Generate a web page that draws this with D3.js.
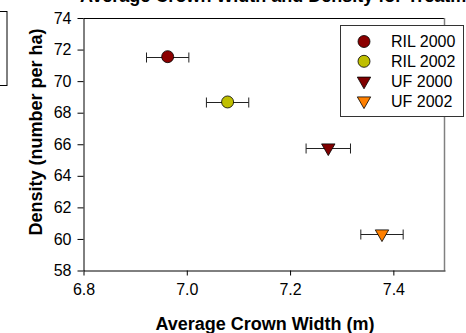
<!doctype html>
<html lang="en">
<head>
    <meta charset="utf-8">
    <title>Crown width vs density</title>
    <style>
        body { margin: 0; background: #fff; }
        svg { display: block; font-family: "Liberation Sans", Arial, sans-serif; }
        .axis text { font-size: 16px; fill: #000; }
        .axis path, .axis line { stroke: #000; }
        .axis-title { font-size: 18px; font-weight: bold; }
    </style>
</head>
<body>
<svg id="chart" width="466" height="333"></svg>

<script src="https://d3js.org/d3.v7.min.js"></script>
<script>

    // values
    let series = ["RIL 2000", "RIL 2002", "UF 2000", "UF 2002"];
    let crownWidth = [6.963, 7.079, 7.274, 7.378];
    let crownWidthErr = [0.041, 0.041, 0.043, 0.041];
    let density = [71.55, 68.68, 65.77, 60.32];
    let xTicks = [6.8, 7.0, 7.2, 7.4];
    let yTicks = [58, 60, 62, 64, 66, 68, 70, 72, 74];

    let fills = ["#8b0000", "#bfbf00", "#800000", "#ff8000"];
    let shapes = ["circle", "circle", "down", "down"];

    let svg = d3.select("#chart");

    let x = d3.scaleLinear().domain([6.8, 7.5]).range([83.5, 445]);
    let y = d3.scaleLinear().domain([58, 74]).range([270.5, 18]);

    // title sits above the top edge in the original, only its bottom shows
    svg.append("text")
        .attr("x", 80).attr("y", 2)
        .attr("font-size", 18).attr("font-weight", "bold")
        .text("Average Crown Width and Density for Treatments");
    svg.append("rect")
        .attr("x", -10.5).attr("y", 11.5).attr("width", 17.5).attr("height", 74)
        .attr("fill", "#fff").attr("stroke", "#000");

    // frame: top black, right grey
    svg.append("line")
        .attr("x1", 83.5).attr("x2", 445).attr("y1", 18.5).attr("y2", 18.5)
        .attr("stroke", "#000");
    svg.append("line")
        .attr("x1", 444.5).attr("x2", 444.5).attr("y1", 18).attr("y2", 270.5)
        .attr("stroke", "#808080").attr("stroke-width", 1.5);

    svg.append("g")
        .attr("class", "axis")
        .attr("transform", "translate(0,270.5)")
        .call(d3.axisBottom(x).tickValues(xTicks).tickFormat(d3.format(".1f"))
            .tickSize(5).tickSizeOuter(0).tickPadding(8));

    svg.append("g")
        .attr("class", "axis")
        .attr("transform", "translate(83.5,0)")
        .call(d3.axisLeft(y).tickValues(yTicks).tickSize(6).tickSizeOuter(0).tickPadding(6));

    svg.selectAll(".axis .domain").attr("stroke", "#000");

    svg.append("text")
        .attr("class", "axis-title")
        .attr("x", 265).attr("y", 329.5)
        .attr("text-anchor", "middle")
        .text("Average Crown Width (m)");

    svg.append("text")
        .attr("class", "axis-title")
        .attr("transform", "translate(42,132) rotate(-90)")
        .attr("text-anchor", "middle")
        .text("Density (number per ha)");

    // error bars
    let bars = svg.append("g").attr("stroke", "#222").attr("stroke-width", 1);
    series.forEach(function (s, i) {
        let yy = Math.round(y(density[i])) + 0.5;
        let x0 = x(crownWidth[i] - crownWidthErr[i]);
        let x1 = x(crownWidth[i] + crownWidthErr[i]);
        bars.append("line").attr("x1", x0).attr("x2", x1).attr("y1", yy).attr("y2", yy);
        bars.append("line").attr("x1", x0).attr("x2", x0).attr("y1", yy - 5).attr("y2", yy + 5);
        bars.append("line").attr("x1", x1).attr("x2", x1).attr("y1", yy - 5).attr("y2", yy + 5);
    });

    function marker(g, shape, fill, cx, cy) {
        if (shape === "circle") {
            g.append("circle")
                .attr("cx", cx).attr("cy", cy).attr("r", 6)
                .attr("fill", fill).attr("stroke", "#000").attr("stroke-width", 0.8);
        } else {
            g.append("path")
                .attr("d", "M" + (cx - 6.7) + "," + (cy - 4) + "L" + (cx + 6.7) + "," + (cy - 4) +
                    "L" + cx + "," + (cy + 7.7) + "Z")
                .attr("fill", fill).attr("stroke", "#000").attr("stroke-width", 0.8);
        }
    }

    let pts = svg.append("g");
    series.forEach(function (s, i) {
        marker(pts, shapes[i], fills[i], x(crownWidth[i]), y(density[i]));
    });

    // legend
    let legend = svg.append("g");
    legend.append("rect")
        .attr("x", 340.5).attr("y", 25.5).attr("width", 123).attr("height", 91)
        .attr("fill", "#fff").attr("stroke", "#333");
    series.forEach(function (s, i) {
        let ly = 41.5 + i * 19.8;
        marker(legend, shapes[i], fills[i], 364, ly);
        legend.append("text")
            .attr("x", 391).attr("y", ly + 5.8)
            .attr("font-size", 16)
            .text(s);
    });

</script>
</body>
</html>
